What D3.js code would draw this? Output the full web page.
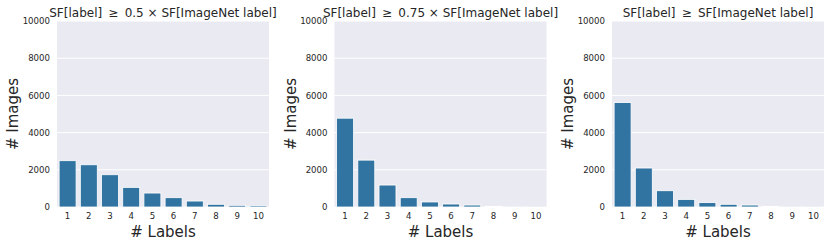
<!DOCTYPE html>
<html><head><meta charset="utf-8">
<script src="https://cdn.jsdelivr.net/npm/d3@7"></script>
<style>body{margin:0;background:#fff}svg{display:block}</style>
</head><body>
<svg id="c" width="831" height="245"></svg>
<script>
const categories = ["1","2","3","4","5","6","7","8","9","10"];
const titles = ["SF[label] \u2009\u2265\u2009 0.5 \u00d7 SF[ImageNet label]", "SF[label] \u2009\u2265\u2009 0.75 \u00d7 SF[ImageNet label]", "SF[label] \u2009\u2265\u2009 SF[ImageNet label]"];
const series05 = [2490, 2270, 1735, 1055, 750, 500, 320, 145, 90, 70];
const series075 = [4775, 2520, 1180, 500, 270, 160, 105, 35, 20, 15];
const series10 = [5615, 2095, 875, 410, 235, 145, 105, 35, 18, 12];
const yTicks = [0, 2000, 4000, 6000, 8000, 10000];
const allSeries = [series05, series075, series10];

(function () {
const svg = d3.select("#c");
const lefts = [57, 334.5, 612];
const W = 212, plotTop = 21, plotBottom = 207;
const font = "DejaVu Sans, sans-serif";

allSeries.forEach((vals, i) => {
  const g = svg.append("g").attr("transform", `translate(${lefts[i]},0)`);
  const x = d3.scaleBand().domain(categories).range([0, W]).paddingInner(0.2).paddingOuter(0.1);
  const y = d3.scaleLinear().domain([0, 10000]).range([plotBottom, plotTop]);
  g.append("rect").attr("x", 0).attr("y", plotTop).attr("width", W).attr("height", plotBottom - plotTop).attr("fill", "#eaeaf2");
  g.selectAll("line.grid").data(yTicks).enter().append("line")
    .attr("x1", 0).attr("x2", W).attr("y1", d => y(d)).attr("y2", d => y(d))
    .attr("stroke", "#fff").attr("stroke-width", 1);
  g.selectAll("rect.bar").data(vals).enter().append("rect")
    .attr("x", (d, j) => x(categories[j]))
    .attr("width", x.bandwidth())
    .attr("y", d => y(d)).attr("height", d => y(0) - y(d))
    .attr("fill", "#3274a1").attr("stroke", "#fff").attr("stroke-width", 0.8);
  const ya = g.append("g").call(d3.axisLeft(y).tickValues(yTicks).tickSize(0).tickPadding(7).tickFormat(d3.format("d")));
  ya.select(".domain").remove();
  ya.selectAll("text").attr("font-family", font).attr("font-size", 8.6).attr("fill", "#262626");
  const xa = g.append("g").attr("transform", `translate(0,${plotBottom})`).call(d3.axisBottom(x).tickSize(0).tickPadding(6));
  xa.select(".domain").remove();
  xa.selectAll("text").attr("font-family", font).attr("font-size", 8.6).attr("fill", "#262626");
  g.append("text").attr("x", W / 2).attr("y", 16.5).attr("text-anchor", "middle")
    .attr("font-family", font).attr("font-size", 12).attr("fill", "#262626").text(titles[i]);
  g.append("text").attr("x", W / 2).attr("y", 236.5).attr("text-anchor", "middle")
    .attr("font-family", font).attr("font-size", 15).attr("fill", "#262626").text("# Labels");
  g.append("text").attr("transform", `translate(-39,${(plotTop + plotBottom) / 2}) rotate(-90)`).attr("text-anchor", "middle")
    .attr("font-family", font).attr("font-size", 15).attr("fill", "#262626").text("# Images");
});
})();
</script>
</body></html>
